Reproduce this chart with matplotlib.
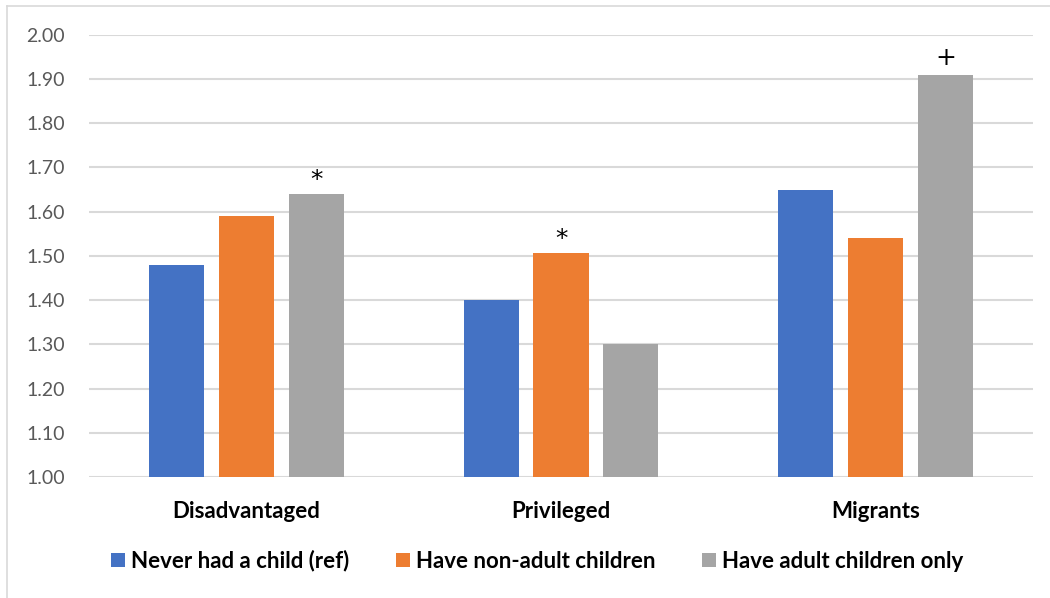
import matplotlib.pyplot as plt
import numpy as np
from matplotlib.lines import Line2D

plt.rcParams["font.family"] = ["Lato", "DejaVu Sans"]

groups = ["Disadvantaged", "Privileged", "Migrants"]
series = ["Never had a child (ref)", "Have non-adult children", "Have adult children only"]
never_had = [1.48, 1.40, 1.65]
non_adult = [1.59, 1.506, 1.54]
adult_only = [1.64, 1.30, 1.91]
# significance markers: (group index, series index, symbol)
markers = [(0, 2, "*"), (1, 1, "*"), (2, 2, "+")]

colors = ["#4472C4", "#ED7D31", "#A5A5A5"]
values = [never_had, non_adult, adult_only]

fig = plt.figure(figsize=(10.5, 5.98), dpi=100)
ax = fig.add_axes([89 / 1050, 1 - 477.2 / 598, 944 / 1050, (477.2 - 34.7) / 598])

x = np.arange(len(groups))
width = 0.175
step = 0.222
bars = []
for i, (vals, col, name) in enumerate(zip(values, colors, series)):
    b = ax.bar(x + (i - 1) * step, np.array(vals) - 1.0, width, bottom=1.0,
               color=col, label=name, zorder=3, linewidth=0)
    bars.append(b)

for g, s, sym in markers:
    v = values[s][g]
    ax.annotate(sym, (x[g] + (s - 1) * step, v), xytext=(0, 10 if sym == "*" else 12),
                textcoords="offset points", ha="center", va="center",
                fontsize=18, color="black", family="DejaVu Sans")

ax.set_xlim(-0.5, 2.5)
ax.set_ylim(1.0, 2.0)
ticks = np.arange(1.0, 2.01, 0.1)
ax.set_yticks(ticks)
ax.set_yticklabels([f"{v:.2f}" for v in ticks])
ax.yaxis.grid(True, color="#D9D9D9", linewidth=1.5, zorder=0)
ax.set_axisbelow(True)
for sp in ax.spines.values():
    sp.set_visible(False)
ax.tick_params(axis="y", length=0, pad=17.5, labelsize=14, labelcolor="#595959")
ax.tick_params(axis="x", length=0, pad=17)
ax.set_xticks(x)
ax.set_xticklabels(groups, fontsize=16, fontweight="bold", color="black")

fig.legend(handles=bars, labels=series, loc="center", bbox_to_anchor=(537.5 / 1050, 1 - 561 / 598),
           ncol=3, frameon=False, handlelength=0.63, handleheight=0.63, handletextpad=0.27,
           columnspacing=2.1, borderpad=0, prop={"size": 16, "weight": "bold"})

# chart frame: only the left and top edges fall inside the image
fig.add_artist(Line2D([7 / 1050, 7 / 1050], [0, 1 - 6 / 598], transform=fig.transFigure,
                      color="#D9D9D9", linewidth=1.2))
fig.add_artist(Line2D([7 / 1050, 1], [1 - 6 / 598, 1 - 6 / 598], transform=fig.transFigure,
                      color="#D9D9D9", linewidth=1.2))

fig.savefig("out.png", dpi=100)
plt.close(fig)
